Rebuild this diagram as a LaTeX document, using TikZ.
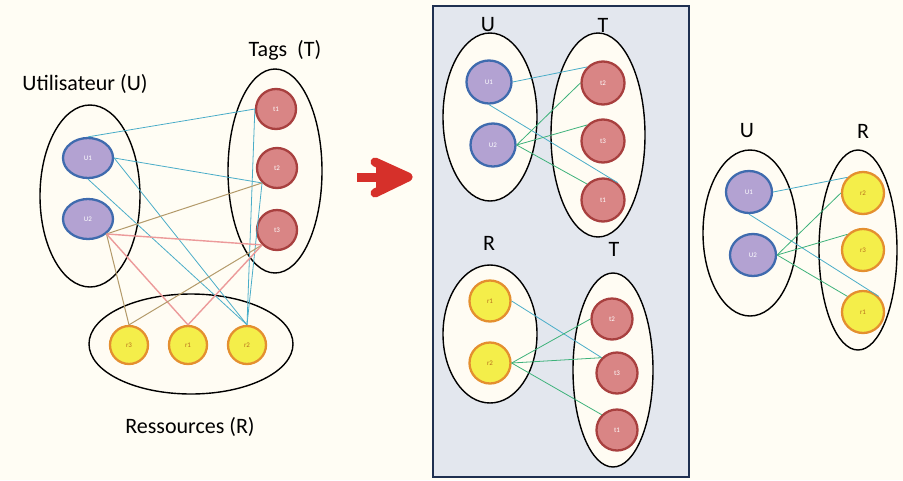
\documentclass[tikz,border=0pt]{standalone}
\usepackage{fontspec}
\setmainfont{Carlito}
\usetikzlibrary{shapes.geometric}
\definecolor{pagebg}{HTML}{FFFDF4}
\definecolor{panelbg}{HTML}{E3E7EE}
\definecolor{panelline}{HTML}{1F3050}
\definecolor{setfill}{HTML}{FFFCF3}
\definecolor{ufill}{HTML}{B3A2D2}
\definecolor{uline}{HTML}{3F6BAE}
\definecolor{tfill}{HTML}{D98585}
\definecolor{tline}{HTML}{A8403F}
\definecolor{rfill}{HTML}{F4EE4A}
\definecolor{rline}{HTML}{E48F2F}
\definecolor{rtext}{HTML}{B8701E}
\definecolor{eblue}{HTML}{4AADC8}
\definecolor{egreen}{HTML}{3DB27A}
\definecolor{eolive}{HTML}{B39A6A}
\definecolor{epink}{HTML}{EC9A9A}
\definecolor{arrowred}{HTML}{D6302A}
\tikzset{
  setbox/.style={ellipse, draw=black, line width=1.4pt, fill=setfill, inner sep=0pt},
  unode/.style={ellipse, draw=uline, line width=2.3pt, fill=ufill, inner sep=0pt,
    text=white, font=\fontsize{7}{7}\selectfont},
  tnode/.style={circle, draw=tline, line width=2.3pt, fill=tfill, inner sep=0pt,
    minimum size=40pt, text=white, font=\fontsize{7}{7}\selectfont},
  rnode/.style={circle, draw=rline, line width=2.3pt, fill=rfill, inner sep=0pt,
    minimum size=38pt, text=rtext, font=\fontsize{7}{7}\selectfont},
  title/.style={font=\fontsize{22}{22}\selectfont, text=black, inner sep=0pt},
  eb/.style={draw=eblue, line width=0.8pt},
  eg/.style={draw=egreen, line width=0.8pt},
  eo/.style={draw=eolive, line width=1pt},
  ep/.style={draw=epink, line width=1.4pt},
}
\begin{document}
\begin{tikzpicture}[x=1pt,y=-1pt]
\useasboundingbox (0,0) rectangle (903,480);
\fill[pagebg] (0,0) rectangle (903,480);

% ---------- left ----------
\node[title] (labU) at (85,84) {Utilisateur (U)};
\node[title] (labT) at (285,50) {Tags\ \ (T)};
\node[title] (labR) at (190,427) {Ressources (R)};
\node[setbox, minimum width=100pt, minimum height=182pt] (setUL) at (90,196) {};
\node[setbox, minimum width=94pt, minimum height=204pt] (setTL) at (275,171) {};
\node[setbox, minimum width=204pt, minimum height=100pt] (setRL) at (191,344) {};

\node[unode, minimum width=50pt, minimum height=40pt] (u1L) at (88,158) {U1};
\node[unode, minimum width=50pt, minimum height=40pt] (u2L) at (88,219) {U2};
\node[tnode] (t1L) at (276,109) {t1};
\node[tnode] (t2L) at (277,168) {t2};
\node[tnode] (t3L) at (277,230) {t3};
\node[rnode] (r3L) at (129,345) {r3};
\node[rnode] (r1L) at (188,345) {r1};
\node[rnode] (r2L) at (247,345) {r2};

\draw[eb] (u1L.north) -- (t1L.west);
\draw[eb] (u1L.east) -- (t2L.south west);
\draw[eb] (u1L.east) -- (r2L.north);
\draw[eb] (u1L.south) -- (r2L.north);
\draw[eb] (t1L.west) -- (r2L.north);
\draw[eb] (t2L.south west) -- (r2L.north);
\draw[eo] (u2L.south east) -- (t2L.south west);
\draw[ep] (u2L.south east) -- (t3L.south west);
\draw[eo] (u2L.south east) -- (r3L.north);
\draw[ep] (u2L.south east) -- (r1L.north);
\draw[eo] (t3L.south west) -- (r3L.north);
\draw[ep] (t3L.south west) -- (r1L.north);

% ---------- arrow ----------
\fill[arrowred] (376,167) -- (413,177) -- (376,188) -- cycle;
\draw[arrowred, line width=9pt, line cap=round, line join=round]
  (375,162) -- (408,177) -- (375,193);
\draw[arrowred, line width=9pt] (357,177) -- (400,177);

% ---------- middle panel ----------
\node[draw=panelline, line width=2pt, fill=panelbg, minimum width=256pt,
  minimum height=471pt, inner sep=0pt] (panel) at (561,241.5) {};

\node[title] (labMU) at (488,25) {U};
\node[title] (labMT) at (603,25) {T};
\node[setbox, minimum width=94pt, minimum height=168pt] (setUM) at (490,117) {};
\node[setbox, minimum width=94pt, minimum height=204pt] (setTM) at (598,135) {};
\node[unode, minimum width=45pt, minimum height=43pt] (u1M) at (489,82) {U1};
\node[unode, minimum width=45pt, minimum height=43pt] (u2M) at (493,145) {U2};
\node[tnode, minimum size=43pt] (t2M) at (603,83) {t2};
\node[tnode, minimum size=43pt] (t3M) at (603,141) {t3};
\node[tnode, minimum size=43pt] (t1M) at (603,200) {t1};
\draw[eb] (u1M.east) -- (t2M.north west);
\draw[eb] (u1M.south) -- (t1M.50);
\draw[eg] (u2M.east) -- (t2M.west);
\draw[eg] (u2M.east) -- (t3M.north west);
\draw[eg] (u2M.east) -- (t1M.north west);

\node[title] (labMR) at (489,243) {R};
\node[title] (labMT2) at (614,249) {T};
\node[setbox, minimum width=94pt, minimum height=138pt] (setRM) at (490,334) {};
\node[setbox, minimum width=80pt, minimum height=194pt] (setTM2) at (613,370) {};
\node[rnode, minimum size=41pt] (r1M) at (490,301) {r1};
\node[rnode, minimum size=41pt] (r2M) at (490,363) {r2};
\node[tnode, minimum size=41pt] (t2M2) at (612,319) {t2};
\node[tnode, minimum size=41pt] (t3M2) at (617,373) {t3};
\node[tnode, minimum size=41pt] (t1M2) at (617,430) {t1};
\draw[eb] (r1M.east) -- (t3M2.north west);
\draw[eg] (r2M.east) -- (t2M2.west);
\draw[eg] (r2M.east) -- (t3M2.north west);
\draw[eg] (r2M.east) -- (t1M2.north west);

% ---------- right ----------
\node[title] (labRU) at (747,131) {U};
\node[title] (labRR) at (863,131) {R};
\node[setbox, minimum width=94pt, minimum height=166pt] (setUR) at (750,233) {};
\node[setbox, minimum width=78pt, minimum height=200pt] (setRR) at (858,250) {};
\node[unode, minimum width=46pt, minimum height=42pt] (u1R) at (749,192) {U1};
\node[unode, minimum width=46pt, minimum height=42pt] (u2R) at (753,255) {U2};
\node[rnode, minimum size=42pt] (r2R) at (863,193) {r2};
\node[rnode, minimum size=42pt] (r3R) at (863,250) {r3};
\node[rnode, minimum size=42pt] (r1R) at (863,312) {r1};
\draw[eb] (u1R.east) -- (r2R.north west);
\draw[eb] (u1R.south) -- (r1R.north east);
\draw[eg] (u2R.east) -- (r2R.west);
\draw[eg] (u2R.east) -- (r3R.north west);
\draw[eg] (u2R.east) -- (r1R.north west);
\end{tikzpicture}
\end{document}
